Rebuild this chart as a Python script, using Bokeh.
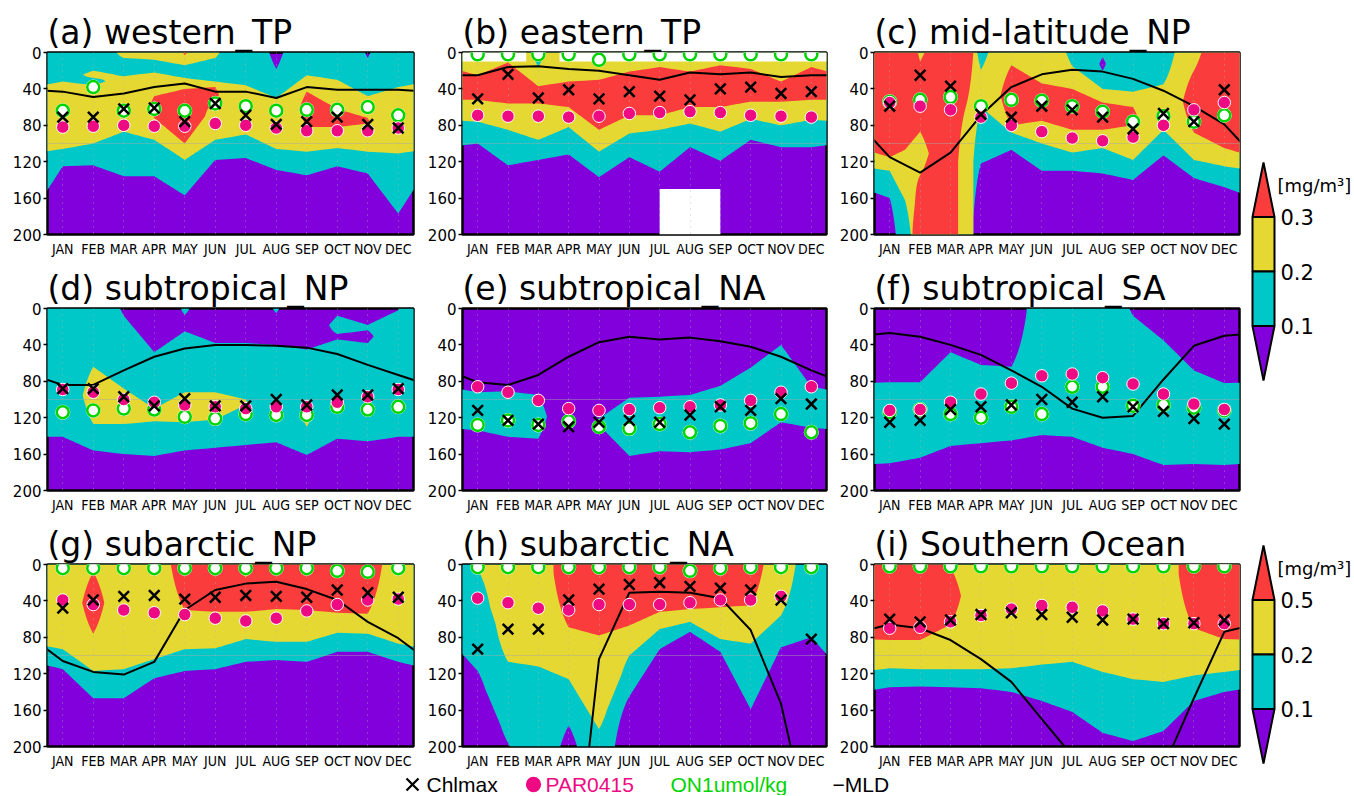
import numpy as np
from bokeh.plotting import figure
from bokeh.layouts import row, column
from bokeh.models import Range1d, FixedTicker, ColumnDataSource
from bokeh.core.properties import value
from bokeh.embed import file_html
from bokeh.resources import INLINE

MONTHS = ["JAN", "FEB", "MAR", "APR", "MAY", "JUN", "JUL", "AUG", "SEP", "OCT", "NOV", "DEC"]
MONTH_X = list(range(1, 13))
DEPTH_TICKS = [0, 40, 80, 120, 160, 200]
BAND_COLORS = ["#8200DC", "#00C8C8", "#E6D832", "#FA3C3C"]   # <0.1, 0.1-0.2, 0.2-top, >top
CB1_LABELS = ["0.3", "0.2", "0.1"]
CB2_LABELS = ["0.5", "0.2", "0.1"]
PINK = "#EE0A82"
GREEN = "#00D400"

TITLES = ["(a) western_TP", "(b) eastern_TP", "(c) mid-latitude_NP",
          "(d) subtropical_NP", "(e) subtropical_NA", "(f) subtropical_SA",
          "(g) subarctic_NP", "(h) subarctic_NA", "(i) Southern Ocean"]

# chlorophyll class profiles per month: "class:bottom_depth ..." (class 0..3)
A_FIELD = ["1:32 2:106 1:125 0", "1:20 2:28 1:36 2:100 1:124 0", "2:6 1:26 2:87 1:136 0",
           "2:8 1:22 2:48 3:72 2:96 1:136 0", "3:3 2:14 1:28 2:40 3:100 2:118 1:157 0",
           "2:6 1:32 2:38 3:55 2:96 1:118 0", "1:36 2:90 1:116 0", "0:18 1:50 2:106 1:129 0",
           "1:25 2:43 3:82 2:109 1:135 0", "1:30 2:62 3:82 2:105 1:125 0",
           "0:6 1:48 2:72 3:78 2:109 1:133 0", "1:38 2:111 1:177 0"]
B_FIELD = ["2:25 3:52 2:76 1:100 0", "2:11 3:56 2:85 1:124 0", "1:16 2:37 3:56 2:96 1:118 0",
           "2:32 3:60 2:82 1:112 0", "1:4 2:30 3:85 2:109 1:137 0", "2:21 3:69 2:89 1:115 0",
           "2:16 3:69 2:85 1:131 0", "2:21 3:60 2:78 1:104 0", "2:14 3:60 2:87 1:119 0",
           "2:18 3:54 2:73 1:96 0", "2:32 3:54 2:80 1:104 0", "2:16 3:52 2:74 1:104 0"]
C_FIELD = ["3:115 2:130 1:160 0", "2:10 3:87 2:135 3", "3", "1:19 2:60 1:122 0",
           "2:14 3:80 2:88 1:107 0", "2:34 3:75 2:100 1:130 0", "1:15 2:40 3:85 2:110 1:130 0",
           "1:5 0:20 1:40 2:55 3:85 2:105 1:133 0", "1:43 2:60 3:80 2:118 1:140 0",
           "1:35 2:85 1:113 0", "2:20 3:88 2:118 1:138 0", "3:105 2:125 1:148 0"]
C_EXTRA_X = [1.5, 3.5]
C_EXTRA_FIELD = ["3:107 2:162 1", "3:60 2"]
D_FIELD = ["1:141 0", "1:64 2:127 1:156 0", "0:8 1:88 2:127 1:160 0", "0:48 1:110 2:124 1:162 0",
           "1:7 0:25 1:92 2:125 1:156 0", "0:38 1:92 2:122 1:153 0", "0:38 1:100 2:106 1:150 0",
           "1:5 0:40 1:147 0", "0:45 1:100 2:130 1:161 0", "0:8 1:28 0:34 1:143 0",
           "0:18 1:24 0:38 1:146 0", "0:2 1:141 0"]
E_FIELD = ["0:92 1:134 0", "0:91 1:141 0", "0:95 1:143 0", "0", "0:121 1:128 0", "0:98 1:162 0",
           "0:97 1:157 0", "0:95 1:158 0", "0:85 1:155 0", "0:65 1:148 0",
           "0:40 1:97 2:101 1:125 0", "0:86 1:131 0"]
F_FIELD = ["0:81 1:170 0", "0:81 1:164 0", "0:48 1:151 0", "0:62 1:148 0", "0:64 1:145 0",
           "1:139 0", "1:141 0", "1:153 0", "0:8 1:160 0", "0:35 1:172 0", "0:68 1:171 0",
           "0:82 1:172 0"]
G_FIELD = ["2:93 1:115 0", "2:8 3:76 2:117 1:147 0", "2:115 1:147 0", "2:104 1:125 0",
           "3:50 2:93 1:117 0", "3:52 2:92 1:115 0", "2:14 3:52 2:82 1:107 0", "3:49 2:85 1:105 0",
           "3:50 2:85 1:107 0", "3:53 2:75 1:96 0", "3:54 2:76 1:96 0", "2:87 1:107 0"]
H_FIELD = ["2:5 1:117 0", "2:107 1:196 0", "2:112 1", "3:69 2:126 1:177 0", "3:78 2:181 1",
           "3:67 2:100 1:145 0", "3:52 2:71 1:93 0", "3:49 2:63 1:74 0", "3:47 2:82 1:96 0",
           "3:45 2:87 1:159 0", "2:56 1:91 0", "1:80 0"]
I_FIELD = ["3:83 2:114 1:135 0", "3:83 2:115 1:134 0", "2:3 3:66 2:115 1:135 0", "2:115 1:136 0",
           "2:114 1:140 0", "2:110 1:150 0", "2:107 1:162 0", "2:118 1:185 0", "2:126 1:194 0",
           "2:129 1:183 0", "3:70 2:122 1:150 0", "3:82 2:118 1:140 0"]

# depths [m] per month JAN..DEC
A_CHL = [71, 71, 62, 61, 76, 56, 69, 79, 76, 71, 79, 83]
A_PAR = [82, 81, 80, 81, 81, 78, 80, 83, 86, 86, 86, 83]
A_N1 = [64, 38, 64, 62, 64, 56, 59, 64, 63, 63, 60, 69]
A_MLD = [43, 49, 45, 38, 34, 43, 43, 50, 38, 41, 41, 41]

B_CHL = [51, 24, 50, 41, 51, 43, 48, 52, 40, 38, 45, 43]
B_PAR = [69, 70, 70, 71, 70, 67, 66, 65, 66, 69, 70, 71]
B_N1 = [2, 2, 2, 2, 8, 2, 2, 2, 2, 2, 2, 2]
B_MLD = [25, 16, 15, 18, 20, 25, 30, 22, 24, 22, 27, 25]

C_CHL = [59, 25, 37, 68, 71, 59, 63, 71, 84, 67, 76, 41]
C_PAR = [55, 59, 63, 71, 80, 87, 94, 97, 93, 80, 63, 55]
C_N1 = [54, 52, 49, 59, 52, 53, 59, 65, 76, 70, 76, 69]
C_MLD = [115, 132, 110, 69, 38, 24, 19, 21, 29, 42, 59, 79]

D_CHL = [88, 88, 97, 107, 99, 107, 107, 100, 106, 95, 95, 88]
D_PAR = [89, 92, 100, 103, 106, 108, 110, 108, 108, 103, 97, 89]
D_N1 = [114, 112, 110, 111, 119, 121, 116, 117, 117, 108, 111, 108]
D_MLD = [84, 84, 68, 53, 44, 40, 40, 41, 43, 50, 62, 73]

E_CHL = [112, 123, 127, 130, 125, 123, 125, 117, 108, 112, 99, 105]
E_PAR = [86, 92, 101, 110, 112, 111, 109, 108, 106, 101, 92, 86]
E_N1 = [128, 123, 128, 124, 130, 132, 127, 136, 129, 126, 116, 136]
E_MLD = [81, 84, 73, 53, 37, 31, 34, 32, 36, 42, 53, 68]

F_CHL = [125, 123, 111, 108, 106, 100, 103, 97, 108, 113, 121, 127]
F_PAR = [112, 111, 103, 94, 82, 74, 72, 76, 83, 94, 105, 111]
F_N1 = [114, 111, 116, 120, 108, 116, 86, 86, 107, 106, 109, 112]
F_MLD = [27, 31, 40, 51, 68, 86, 110, 120, 118, 78, 41, 30]

G_CHL = [48, 39, 35, 34, 38, 36, 34, 35, 36, 28, 31, 36]
G_PAR = [39, 44, 50, 53, 55, 59, 62, 59, 51, 44, 39, 38]
G_N1 = [4, 4, 4, 4, 4, 4, 4, 4, 4, 7, 8, 4]
G_MLD = [106, 118, 121, 107, 50, 28, 21, 19, 27, 39, 63, 81]

H_CHL = [93, 71, 71, 39, 27, 22, 20, 24, 26, 28, 39, 82]
H_PAR = [37, 42, 48, 50, 44, 44, 44, 42, 39, 39, 35, np.nan]
H_N1 = [3, 3, 3, 3, 3, 3, 3, 7, 4, 3, 3, 3]
H_MLD = [300, 380, 420, 404, 104, 31, 30, 31, 37, 72, 153, 300]

I_CHL = [60, 63, 61, 55, 53, 55, 58, 61, 60, 65, 64, 61]
I_PAR = [70, 69, 63, 56, 49, 45, 47, 51, 60, 65, 65, 65]
I_N1 = [2, 2, 2, 2, 2, 2, 2, 2, 2, 2, 2, 2]
I_MLD = [66, 70, 83, 104, 129, 170, 210, 260, 280, 223, 147, 74]

# regions without data in (b): month_left, month_right, depth_top, depth_bottom
B_MISS_L = [0.5, 3.7, 7.0]
B_MISS_R = [2.6, 12.5, 9.0]
B_MISS_T = [0, 0, 150]
B_MISS_B = [10, 10, 200]

FIELDS = [A_FIELD, B_FIELD, C_FIELD, D_FIELD, E_FIELD, F_FIELD, G_FIELD, H_FIELD, I_FIELD]
EXTRAS = {2: (C_EXTRA_X, C_EXTRA_FIELD)}
CHLS = [A_CHL, B_CHL, C_CHL, D_CHL, E_CHL, F_CHL, G_CHL, H_CHL, I_CHL]
PARS = [A_PAR, B_PAR, C_PAR, D_PAR, E_PAR, F_PAR, G_PAR, H_PAR, I_PAR]
N1S = [A_N1, B_N1, C_N1, D_N1, E_N1, F_N1, G_N1, H_N1, I_N1]
MLDS = [A_MLD, B_MLD, C_MLD, D_MLD, E_MLD, F_MLD, G_MLD, H_MLD, I_MLD]

DEPTHS = np.arange(0, 201, 1.0)
CAP = 60.0


def parse(spec):
    bands, top = [], 0.0
    for tok in spec.split():
        if ":" in tok:
            c, b = tok.split(":")
            c, b = int(c), float(b)
        else:
            c, b = int(tok), 200.0
        bands.append((c, top, b))
        top = b
    return bands


def signed_distance(spec, level):
    bands = parse(spec)
    cls = np.zeros_like(DEPTHS)
    for c, t, b in bands:
        cls[(DEPTHS >= t) & (DEPTHS <= b)] = c
    sign = np.where(cls >= level, 1.0, -1.0)
    edges = [bands[k][2] for k in range(len(bands) - 1)
             if (bands[k][0] >= level) != (bands[k + 1][0] >= level)]
    if edges:
        d = np.min(np.abs(DEPTHS[:, None] - np.array(edges)[None, :]), axis=1)
    else:
        d = np.full_like(DEPTHS, CAP)
    return sign * np.minimum(d, CAP)


def columns_of(k):
    field = FIELDS[k]
    cols = [(float(i), field[(i - 1) % 12]) for i in range(14)]
    if k in EXTRAS:
        cols += list(zip(EXTRAS[k][0], EXTRAS[k][1]))
    cols.sort(key=lambda t: t[0])
    return cols


COL_L = [47, 42, 40]
COL_R = [7, 8, 2]
COL_FW = [366, 364, 365]
ROW_T = [52, 44, 44]
ROW_B = [30, 30, 26]
FRAME_H = 182

panels = []
for k in range(9):
    r, c = divmod(k, 3)
    W = COL_L[c] + COL_FW[c] + COL_R[c]
    H = ROW_T[r] + FRAME_H + ROW_B[r]
    p = figure(width=W, height=H, x_range=Range1d(0.5, 12.5), y_range=Range1d(200, 0),
               min_border_left=COL_L[c], min_border_right=COL_R[c],
               min_border_top=ROW_T[r], min_border_bottom=ROW_B[r],
               output_backend="svg", toolbar_location=None, title=TITLES[k])
    p.title.text_font = "DejaVu Sans"
    p.title.text_font_size = "33px"
    p.title.text_font_style = "normal"
    p.title.text_color = "black"
    p.title.align = "left"
    p.title.standoff = 1
    p.title.offset = 0
    p.outline_line_color = "black"
    p.outline_line_width = 2.5
    p.background_fill_color = BAND_COLORS[0]
    p.border_fill_color = "white"

    cols = columns_of(k)
    xs = np.array([cx for cx, _ in cols])
    for lev in (1, 2, 3):
        G = np.array([signed_distance(spec, lev) for _, spec in cols]).T
        if not (G > 0).any():
            continue
        cr = p.contour(x=xs, y=DEPTHS, z=G, levels=[0, CAP + 1],
                       fill_color=BAND_COLORS[lev], line_color=None)
        cr.level = "image"
        try:
            g = cr.fill_renderer.glyph
            g.line_color = g.fill_color
            g.line_width = 0.5
        except Exception:
            pass

    if k == 1:
        p.quad(left=B_MISS_L, right=B_MISS_R, top=B_MISS_T, bottom=B_MISS_B,
               fill_color="white", line_color=None, level="image")

    xa = p.xaxis[0]
    xa.ticker = FixedTicker(ticks=MONTH_X)
    xa.major_label_overrides = {m: s for m, s in zip(MONTH_X, MONTHS)}
    xa.major_tick_line_color = None
    xa.major_tick_out = 0
    xa.major_tick_in = 0
    xa.minor_tick_line_color = None
    xa.axis_line_color = None
    xa.major_label_standoff = 6
    xa.major_label_text_font = "DejaVu Sans Condensed, Roboto"
    xa.major_label_text_font_size = "14px"
    xa.major_label_text_color = "black"

    ya = p.yaxis[0]
    ya.ticker = FixedTicker(ticks=DEPTH_TICKS)
    ya.major_tick_out = 4
    ya.major_tick_in = 0
    ya.major_tick_line_width = 1.5
    ya.minor_tick_line_color = None
    ya.axis_line_color = None
    ya.major_label_standoff = 2
    ya.major_label_text_font = "DejaVu Sans"
    ya.major_label_text_font_size = "15px"
    ya.major_label_text_color = "black"

    p.xgrid.grid_line_color = "#b0b0b0"
    p.xgrid.grid_line_dash = "1 5"
    p.xgrid.grid_line_alpha = 0.7
    p.xgrid.level = "underlay"
    p.ygrid.ticker = FixedTicker(ticks=[100])
    p.ygrid.grid_line_color = "#a8a8a8"
    p.ygrid.grid_line_alpha = 0.45
    p.ygrid.level = "underlay"

    mld = MLDS[k]
    p.line(x=list(range(0, 14)), y=[mld[-1]] + list(mld) + [mld[0]],
           line_color="black", line_width=2)
    src = ColumnDataSource(dict(x=MONTH_X, chl=np.array(CHLS[k], dtype=float),
                                par=np.array(PARS[k], dtype=float),
                                n1=np.array(N1S[k], dtype=float)))
    p.scatter("x", "n1", source=src, marker="circle", size=15, fill_color="white",
              line_color=None)
    p.scatter("x", "n1", source=src, marker="circle", size=12, fill_color="white",
              line_color=GREEN, line_width=2.5)
    p.scatter("x", "par", source=src, marker="circle", size=12.5, fill_color=PINK,
              line_color="white", line_width=1)
    p.scatter("x", "chl", source=src, marker="x", size=15, line_color="black",
              line_width=2.5)
    panels.append(p)

# legend strip
LEG_TEXT = ["Chlmax", "PAR0415", "ON1umol/kg", "−MLD"]
LEG_X = [426, 545, 670, 832]
LEG_COLOR = ["black", PINK, GREEN, "black"]
LEG_SYM_X = [412, 533]
LEG_SYM = ["x", "circle"]
LEG_SYM_COLOR = ["black", PINK]
LEG_SYM_SIZE = [17, 13]
LEG_W, LEG_H = 1241, 23
legend = figure(width=LEG_W, height=LEG_H, x_range=Range1d(0, LEG_W), y_range=Range1d(LEG_H, 0),
                min_border=0, x_axis_type=None, y_axis_type=None, toolbar_location=None,
                output_backend="svg", outline_line_color=None)
legend.xgrid.visible = False
legend.ygrid.visible = False
legend.text(x="x", y="y", text="t", text_color="c",
            source=ColumnDataSource(dict(x=LEG_X, y=[12] * 4, t=LEG_TEXT, c=LEG_COLOR)),
            text_baseline="middle", text_align="left", text_font=value("Liberation Sans"),
            text_font_size="21px")
legend.scatter(x="x", y="y", marker="m", size="s", line_color="c", fill_color="c",
               line_width=2.3,
               source=ColumnDataSource(dict(x=LEG_SYM_X, y=[12] * 2, m=LEG_SYM,
                                            c=LEG_SYM_COLOR, s=LEG_SYM_SIZE)))

# colour bars
CB_W, CB_H = 112, 795
cb = figure(width=CB_W, height=CB_H, x_range=Range1d(0, CB_W), y_range=Range1d(CB_H, 0),
            min_border=0, x_axis_type=None, y_axis_type=None, toolbar_location=None,
            output_backend="svg", outline_line_color=None)
cb.xgrid.visible = False
cb.ygrid.visible = False
CB_TOPS = [162, 545]
SEG = 54.5
CX, HW = 22, 11
for top, labels in zip(CB_TOPS, [CB1_LABELS, CB2_LABELS]):
    pxs = [[CX - HW, CX + HW, CX],
           [CX - HW, CX + HW, CX + HW, CX - HW],
           [CX - HW, CX + HW, CX + HW, CX - HW],
           [CX - HW, CX + HW, CX]]
    pys = [[top + SEG, top + SEG, top],
           [top + SEG, top + SEG, top + 2 * SEG, top + 2 * SEG],
           [top + 2 * SEG, top + 2 * SEG, top + 3 * SEG, top + 3 * SEG],
           [top + 3 * SEG, top + 3 * SEG, top + 4 * SEG]]
    cb.patches(pxs, pys, fill_color=BAND_COLORS[::-1], line_color="black", line_width=2)
    cb.text(x=[CX + 17] * 3, y=[top + SEG, top + 2 * SEG, top + 3 * SEG], text=labels,
            text_baseline="middle", text_align="left", text_font=value("DejaVu Sans"),
            text_font_size="21px", text_color="black")
    cb.text(x=[CX + 14], y=[top + 23], text=["[mg/m³]"], text_baseline="middle",
            text_align="left", text_font=value("DejaVu Sans"), text_font_size="18px",
            text_color="black")

left = column(row(panels[0:3]), row(panels[3:6]), row(panels[6:9]), legend)
layout = row(left, cb)

open("out.html", "w").write(file_html(layout, INLINE))
